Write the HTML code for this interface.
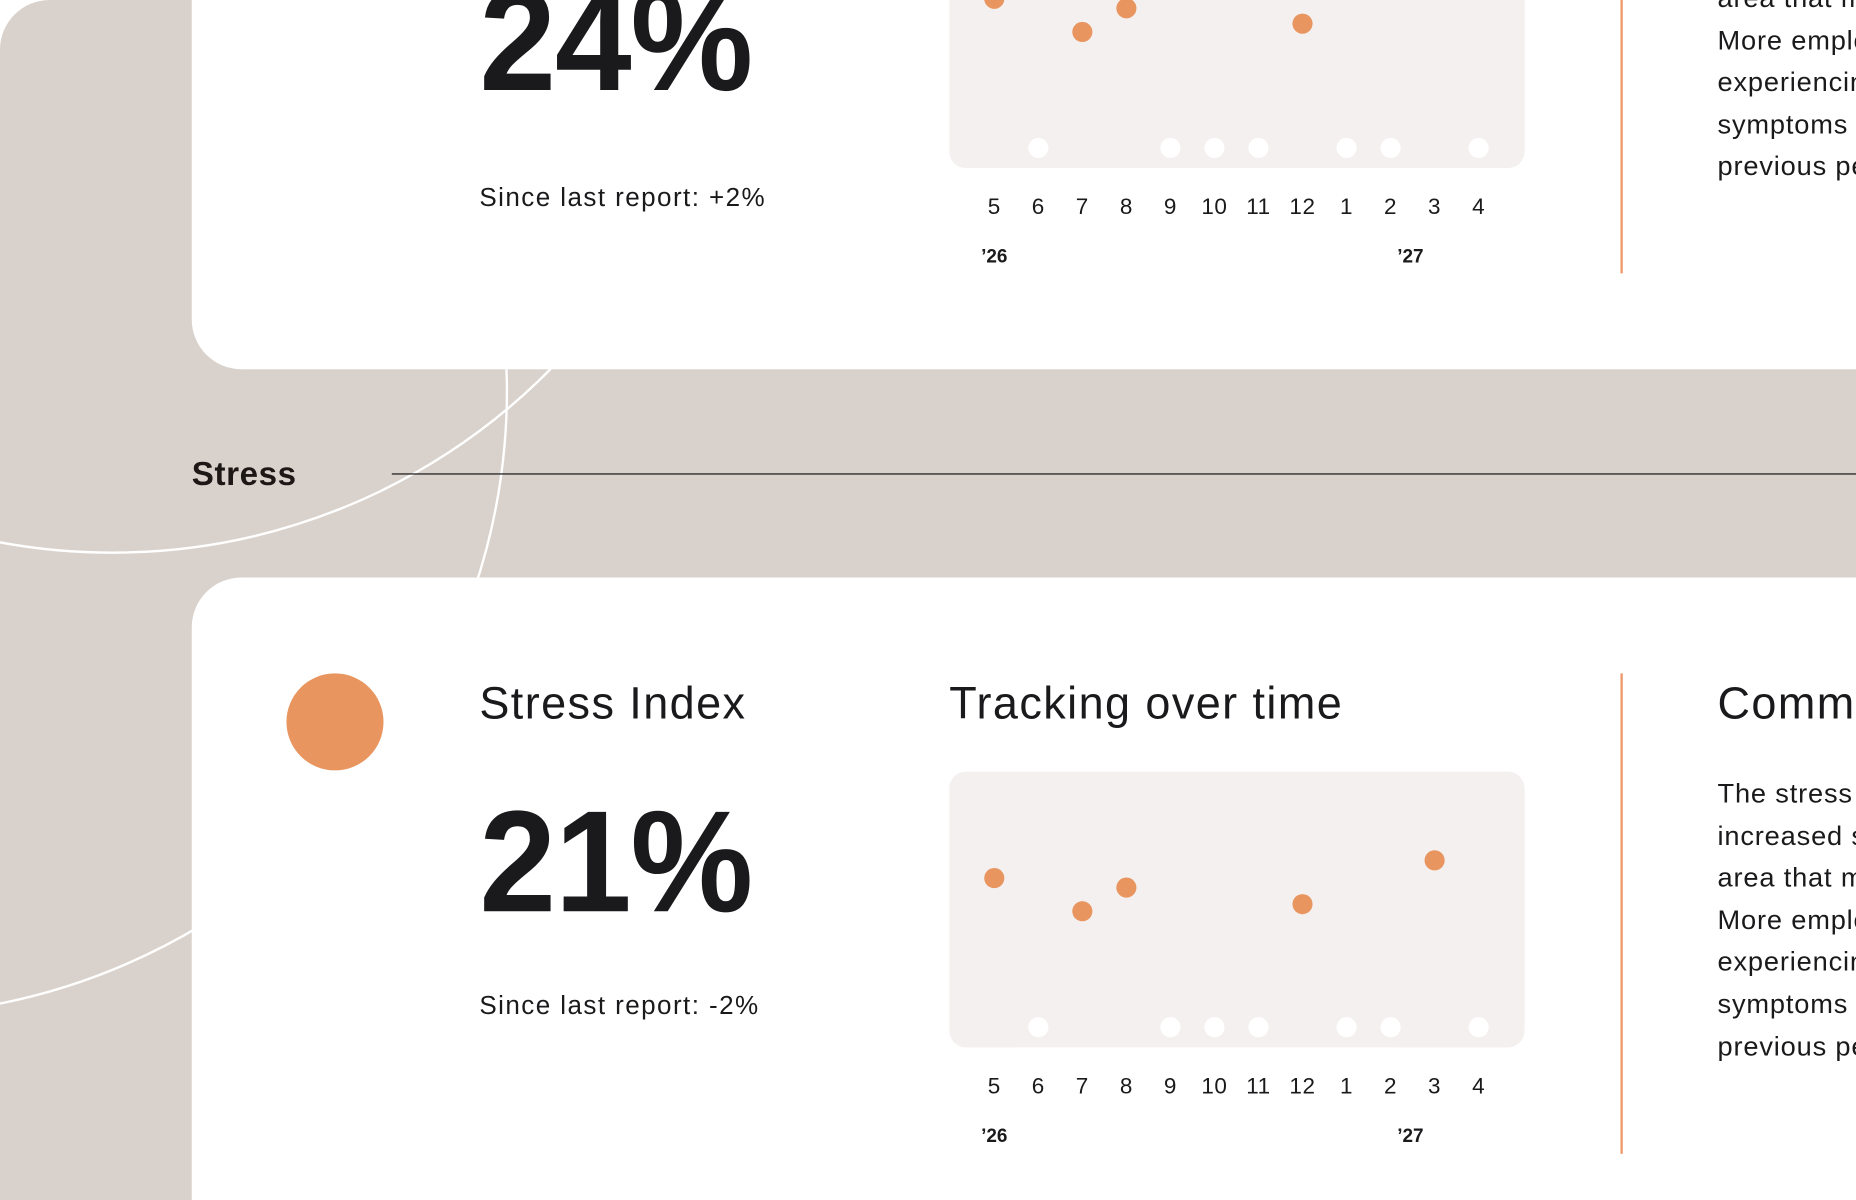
<!DOCTYPE html>
<html><head><meta charset="utf-8">
<style>
html,body{margin:0;padding:0;width:1856px;height:1200px;overflow:hidden;background:#fff}
#wrap{position:absolute;left:0;top:0;width:1568px;height:1014px;transform:scale(1.18367,1.18343);transform-origin:0 0;overflow:hidden;font-family:"Liberation Sans",sans-serif;color:#1a1a1c}
.abs{position:absolute;white-space:nowrap}
.big{font-size:122px;font-weight:bold;line-height:122px;transform:scaleX(0.955);transform-origin:0 0;letter-spacing:-1px}
.title{font-size:38px;letter-spacing:1.2px}
.para{font-size:23px;line-height:35.6px;white-space:pre;letter-spacing:0.7px}
</style></head><body>
<div id="wrap">
<div class="abs" style="left:0;top:0;width:1568px;height:1014px;background:#d9d2cc;border-top-left-radius:42px"></div>
<svg class="abs" style="left:0;top:0" width="1568" height="1014">
<circle cx="95" cy="-52" r="519" fill="none" stroke="#fff" stroke-width="2"/>
<path d="M422 250 A522 522 0 0 1 400 500" fill="none" stroke="#fff" stroke-width="2"/>
<path d="M0 848 Q90 830 170 782" fill="none" stroke="#fff" stroke-width="2"/>
</svg>
<div class="abs" style="left:162px;top:-60px;width:1406px;height:372px;background:#fff;border-bottom-left-radius:42px"></div>
<div class="abs" style="left:162px;top:488px;width:1406px;height:526px;background:#fff;border-top-left-radius:42px"></div>
<div class="abs" style="left:162px;top:385px;font-size:28px;font-weight:bold;color:#1d1715;letter-spacing:0.5px">Stress</div>
<div class="abs" style="left:331px;top:400px;width:1237px;height:1px;background:#111"></div>

<div class="abs big" style="left:405px;top:-27px">24%</div>
<div class="abs" style="left:405px;top:154px;font-size:22px;letter-spacing:1.2px">Since last report: +2%</div>
<div class="abs" style="left:1369px;top:0;width:2px;height:231px;background:#ef9a6a"></div>
<div class="abs para" style="left:1451px;top:-19px">area that may need
More employees are
experiencing stress
symptoms than in the
previous period.</div>

<div class="abs" style="left:242px;top:569px;width:82px;height:82px;border-radius:50%;background:#e8955f"></div>
<div class="abs title" style="left:405px;top:574px">Stress Index</div>
<div class="abs big" style="left:405px;top:667px">21%</div>
<div class="abs" style="left:405px;top:837px;font-size:22px;letter-spacing:1.2px">Since last report: -2%</div>
<div class="abs title" style="left:802px;top:574px">Tracking over time</div>
<div class="abs" style="left:1369px;top:569px;width:2px;height:406px;background:#ef9a6a"></div>
<div class="abs title" style="left:1451px;top:574px">Comments</div>
<div class="abs para" style="left:1451px;top:653px">The stress index has
increased slightly, an
area that may need
More employees are
experiencing stress
symptoms than in the
previous period.</div>

<svg id="chartTop" class="abs" style="left:0;top:0" width="1568" height="1014"></svg>
<svg id="chartBot" class="abs" style="left:0;top:0" width="1568" height="1014"></svg>
</div>
<script>
const months = ["5","6","7","8","9","10","11","12","1","2","3","4"];
const yearLabels = ["’26","’27"];
const yearIndex = [0,9.45];
const topValues = [25.2,null,19.6,23.6,null,null,null,21,null,null,28,null];
const stressValues = [25.2,null,19.6,23.6,null,null,null,20.8,null,null,28.2,null];
const NS="http://www.w3.org/2000/svg";
function xScale(i){return 840+i*37.2;}
function drawChart(svg, values, dy){
  const panelTop=652+dy, base=868+dy;
  const yScale=v=>base-v*5;
  const r=document.createElementNS(NS,"rect");
  
  
  r.setAttribute("x",802);r.setAttribute("y",panelTop);r.setAttribute("width",486);r.setAttribute("height",233);
  r.setAttribute("rx",14);r.setAttribute("fill","#f4f0ef");svg.appendChild(r);
  values.forEach((v,i)=>{
    const c=document.createElementNS(NS,"circle");
    
    
    c.setAttribute("cx",xScale(i));c.setAttribute("cy",v===null?base:yScale(v));c.setAttribute("r",8.5);
    c.setAttribute("fill",v===null?"#ffffff":"#e8955f");svg.appendChild(c);
  });
  months.forEach((m,i)=>{
    const t=document.createElementNS(NS,"text");
    
    
    t.setAttribute("x",xScale(i));t.setAttribute("y",924+dy);t.setAttribute("text-anchor","middle");
    t.setAttribute("font-size","19");t.setAttribute("letter-spacing","0.5");t.setAttribute("fill","#1a1a1c");t.textContent=m;svg.appendChild(t);
  });
  yearLabels.forEach((lab,k)=>{
    const t=document.createElementNS(NS,"text");
    
    
    t.setAttribute("x",xScale(yearIndex[k]));t.setAttribute("y",965+dy);t.setAttribute("text-anchor","middle");
    t.setAttribute("font-size","16");t.setAttribute("font-weight","bold");t.setAttribute("fill","#1a1a1c");t.textContent=lab;svg.appendChild(t);
  });
}
drawChart(document.getElementById("chartTop"), topValues, -743);
drawChart(document.getElementById("chartBot"), stressValues, 0);
</script>
</body></html>
